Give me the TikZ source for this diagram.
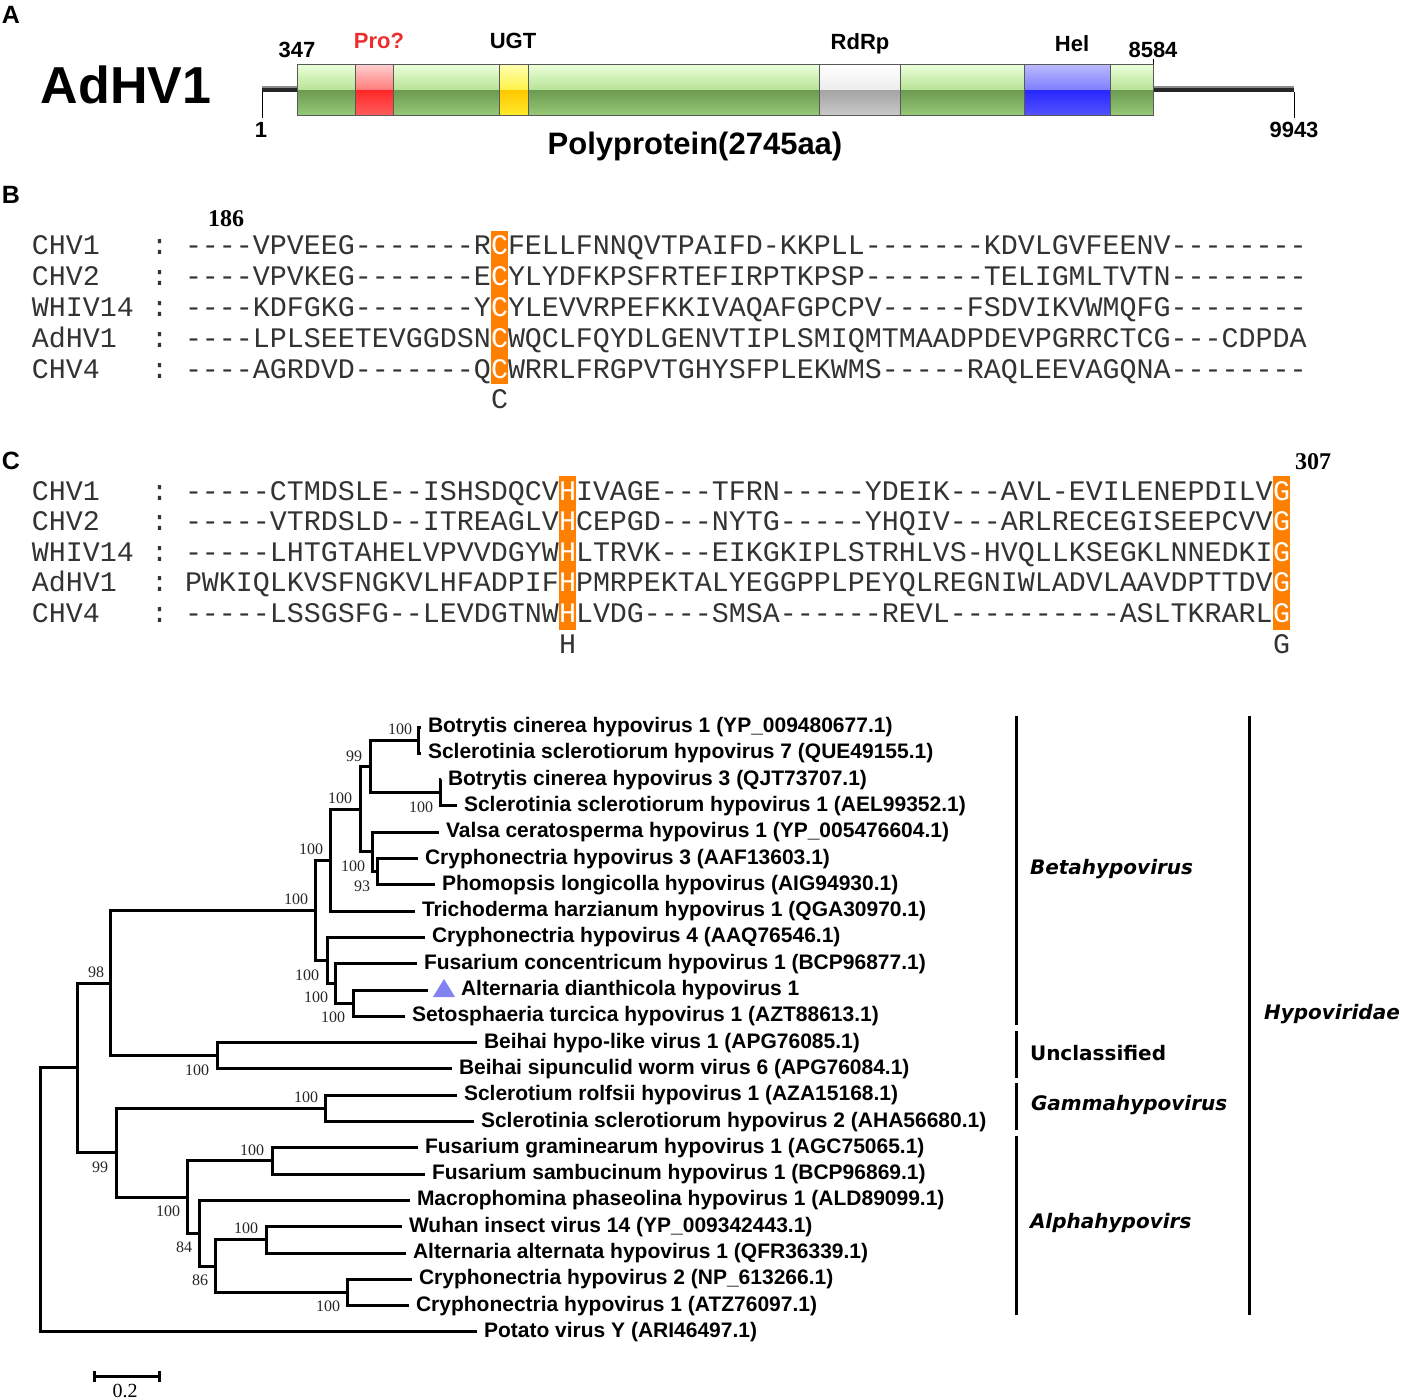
\documentclass[tikz,border=0pt]{standalone}
\usepackage{fontspec}
\setmainfont{Liberation Sans}
\setmonofont{Liberation Mono}
\newfontfamily\serifface{Liberation Serif}
\newfontfamily\verdface{DejaVu Sans}
\usetikzlibrary{calc}
\definecolor{orng}{RGB}{255,128,0}
\definecolor{proRed}{RGB}{235,45,45}
\definecolor{triBlue}{RGB}{130,130,240}
% bar segment colours: top, mid-upper, mid-lower, bottom
\definecolor{gA}{RGB}{234,255,216}\definecolor{gB}{RGB}{182,226,148}\definecolor{gC}{RGB}{108,155,82}\definecolor{gD}{RGB}{152,202,120}
\definecolor{rA}{RGB}{255,205,205}\definecolor{rB}{RGB}{255,120,120}\definecolor{rC}{RGB}{255,40,40}\definecolor{rD}{RGB}{255,95,95}
\definecolor{yA}{RGB}{255,255,175}\definecolor{yB}{RGB}{255,240,70}\definecolor{yC}{RGB}{255,200,0}\definecolor{yD}{RGB}{255,235,45}
\definecolor{wA}{RGB}{255,255,255}\definecolor{wB}{RGB}{236,236,236}\definecolor{wC}{RGB}{165,165,165}\definecolor{wD}{RGB}{202,202,202}
\definecolor{bA}{RGB}{185,185,255}\definecolor{bB}{RGB}{125,125,255}\definecolor{bC}{RGB}{40,40,255}\definecolor{bD}{RGB}{85,85,255}
\newcommand\barseg[3]{%
  \shade[top color=#3A,bottom color=#3B] (#1,65) rectangle (#2,90.5);
  \shade[top color=#3C,bottom color=#3D] (#1,90.5) rectangle (#2,116);}
\begin{document}
\begin{tikzpicture}[x=0.5pt,y=-0.5pt,
  every node/.style={inner sep=0pt,outer sep=0pt},
  br/.style={line width=1.5pt},
  leaf/.style={anchor=base west,font=\bfseries\fontsize{10.5}{12}\selectfont},
  boot/.style={font=\serifface\fontsize{8}{9}\selectfont,text=black!85},
  seqtxt/.style={anchor=base west,font=\ttfamily\fontsize{14.16}{16}\selectfont,text=black!80},
  hltxt/.style={seqtxt,text=white},
  grp/.style={anchor=west,font=\verdface\bfseries\itshape\fontsize{10}{12}\selectfont},
  panel/.style={font=\bfseries\fontsize{12.5}{14}\selectfont},
  alab/.style={font=\bfseries\fontsize{11}{13}\selectfont},
  posnum/.style={font=\serifface\bfseries\fontsize{12}{14}\selectfont}]
\fill[white] (0,0) rectangle (1402,1400);
\useasboundingbox (0,0) rectangle (1402,1400);

% ================= Panel A =================
\node[panel] (pA) at (11,15) {A};
\node[font=\bfseries\fontsize{26}{30}\selectfont] (name) at (126,85) {AdHV1};
\fill[black!85] (262,86.5) rectangle (297,92.5);
\fill[black!85] (1153,86.5) rectangle (1294,92.5);
\fill[black!45] (262,86.5) rectangle (297,88);
\fill[black!45] (1153,86.5) rectangle (1294,88);
\draw[line width=0.5pt] (262,92) -- (262,118);
\draw[line width=0.5pt] (1294,92) -- (1294,118);
\draw[line width=0.5pt] (1153,59) -- (1153,65);
\barseg{297}{355}{g}
\barseg{355}{393}{r}
\barseg{393}{499}{g}
\barseg{499}{528}{y}
\barseg{528}{819}{g}
\barseg{819}{900}{w}
\barseg{900}{1024}{g}
\barseg{1024}{1110}{b}
\barseg{1110}{1153}{g}
\draw[black!65,line width=0.5pt] (297,65) rectangle (1153,116);
\foreach \xx in {355,393,499,528,819,900,1024,1110}
  \draw[black!65,line width=0.5pt] (\xx,65) -- (\xx,116);
\node[alab] (p347) at (297,50) {347};
\node[alab,text=proRed] (ppro) at (379,41) {Pro?};
\node[alab] (pugt) at (513,41) {UGT};
\node[alab] (prdrp) at (860,44) {RdRp};
\node[alab] (phel) at (1072,44) {Hel};
\node[alab] (p8584) at (1153,50) {8584};
\node[alab] (p1) at (261,130) {1};
\node[alab] (p9943) at (1294,130) {9943};
\node[font=\bfseries\fontsize{15.5}{18}\selectfont] (poly) at (695,146) {Polyprotein(2745aa)};

% ================= Panel B =================
\node[panel] (pB) at (11,195) {B};
\node[posnum] (n186) at (226,219) {186};
\fill[orng] (491,231) rectangle (508,384);
\foreach \yy/\nm/\pre/\mid/\post in {
  246/CHV1/----VPVEEG-------R/C/FELLFNNQVTPAIFD-KKPLL-------KDVLGVFEENV--------,
  277/CHV2/----VPVKEG-------E/C/YLYDFKPSFRTEFIRPTKPSP-------TELIGMLTVTN--------,
  308/WHIV14/----KDFGKG-------Y/C/YLEVVRPEFKKIVAQAFGPCPV-----FSDVIKVWMQFG--------,
  339/AdHV1/----LPLSEETEVGGDSN/C/WQCLFQYDLGENVTIPLSMIQMTMAADPDEVPGRRCTCG---CDPDA,
  370/CHV4/----AGRDVD-------Q/C/WRRLFRGPVTGHYSFPLEKWMS-----RAQLEEVAGQNA--------}{
  \node[seqtxt] (bn\nm) at (32,\yy+8.5) {\nm};
  \node[seqtxt] (bc\nm) at (151,\yy+8.5) {:};
  \node[seqtxt] (bp\nm) at (185,\yy+8.5) {\pre};
  \node[hltxt] (bh\nm) at (491,\yy+8.5) {\mid};
  \node[seqtxt] (bq\nm) at (508,\yy+8.5) {\post};
}
\node[seqtxt,anchor=base] (bcons) at (499.5,408.5) {C};

% ================= Panel C =================
\node[panel] (pC) at (11,461) {C};
\node[posnum] (n307) at (1313,462) {307};
\fill[orng] (559,476) rectangle (576,630);
\fill[orng] (1273,476) rectangle (1290,630);
\foreach \yy/\nm/\pre/\mid in {
  492/CHV1/-----CTMDSLE--ISHSDQCV/IVAGE---TFRN-----YDEIK---AVL-EVILENEPDILV,
  522.5/CHV2/-----VTRDSLD--ITREAGLV/CEPGD---NYTG-----YHQIV---ARLRECEGISEEPCVV,
  553/WHIV14/-----LHTGTAHELVPVVDGYW/LTRVK---EIKGKIPLSTRHLVS-HVQLLKSEGKLNNEDKI,
  583.5/AdHV1/PWKIQLKVSFNGKVLHFADPIF/PMRPEKTALYEGGPPLPEYQLREGNIWLADVLAAVDPTTDV,
  614/CHV4/-----LSSGSFG--LEVDGTNW/LVDG----SMSA------REVL----------ASLTKRARL}{
  \node[seqtxt] (cn\nm) at (32,\yy+8.5) {\nm};
  \node[seqtxt] (cc\nm) at (151,\yy+8.5) {:};
  \node[seqtxt] (cp\nm) at (185,\yy+8.5) {\pre};
  \node[hltxt] (ch\nm) at (559,\yy+8.5) {H};
  \node[seqtxt] (cm\nm) at (576,\yy+8.5) {\mid};
  \node[hltxt] (cg\nm) at (1273,\yy+8.5) {G};
}
\node[seqtxt,anchor=base] (chcons) at (567.5,653.5) {H};
\node[seqtxt,anchor=base] (cgcons) at (1281.5,653.5) {G};

% ================= Tree =================
% tips
\coordinate (t1) at (421,727);
\coordinate (t2) at (421,753.3);
\coordinate (t3) at (441,779.6);
\coordinate (t4) at (457,805.9);
\coordinate (t5) at (439,832.2);
\coordinate (t6) at (418,858.5);
\coordinate (t7) at (435,884.8);
\coordinate (t8) at (415,911.1);
\coordinate (t9) at (425,937.4);
\coordinate (t10) at (417,963.7);
\coordinate (t11) at (428,990);
\coordinate (t12) at (405,1016.3);
\coordinate (t13) at (477,1042.6);
\coordinate (t14) at (452,1068.9);
\coordinate (t15) at (457,1095.2);
\coordinate (t16) at (474,1121.5);
\coordinate (t17) at (418,1147.8);
\coordinate (t18) at (425,1174.1);
\coordinate (t19) at (410,1200.4);
\coordinate (t20) at (402,1226.7);
\coordinate (t21) at (406,1253);
\coordinate (t22) at (412,1279.3);
\coordinate (t23) at (409,1305.6);
\coordinate (t24) at (477,1331.9);
% internal nodes
\coordinate (nBS) at (418,740.15);
\coordinate (nBS2) at (440,792.75);
\coordinate (n99) at (370,766.45);
\coordinate (nCP) at (377,871.65);
\coordinate (nVal) at (372,851.9);
\coordinate (n100a) at (360,809.2);
\coordinate (n100b) at (330,860.15);
\coordinate (n100f) at (353,1003.15);
\coordinate (n100e) at (335,983.4);
\coordinate (n100d) at (327,960.4);
\coordinate (n100c) at (315,910.3);
\coordinate (nBei) at (217,1055.75);
\coordinate (n98) at (110,983);
\coordinate (nGam) at (325,1108.35);
\coordinate (nFus) at (272,1160.95);
\coordinate (nWA) at (266,1239.85);
\coordinate (nCC) at (347,1292.45);
\coordinate (n86) at (215,1266.15);
\coordinate (n84) at (199,1233.3);
\coordinate (n100g) at (187,1197.1);
\coordinate (n99b) at (116,1152.7);
\coordinate (nOut) at (77,1067.9);
\coordinate (root) at (40,1199.9);
% branches
\draw[br] (nBS) |- (t1);   \draw[br] (nBS) |- (t2);
\draw[br] (nBS2) |- (t3);  \draw[br] (nBS2) |- (t4);
\draw[br] (n99) |- (nBS);  \draw[br] (n99) |- (nBS2);
\draw[br] (nCP) |- (t6);   \draw[br] (nCP) |- (t7);
\draw[br] (nVal) |- (t5);  \draw[br] (nVal) |- (nCP);
\draw[br] (n100a) |- (n99); \draw[br] (n100a) |- (nVal);
\draw[br] (n100b) |- (n100a); \draw[br] (n100b) |- (t8);
\draw[br] (n100f) |- (t11); \draw[br] (n100f) |- (t12);
\draw[br] (n100e) |- (t10); \draw[br] (n100e) |- (n100f);
\draw[br] (n100d) |- (t9);  \draw[br] (n100d) |- (n100e);
\draw[br] (n100c) |- (n100b); \draw[br] (n100c) |- (n100d);
\draw[br] (nBei) |- (t13); \draw[br] (nBei) |- (t14);
\draw[br] (n98) |- (n100c); \draw[br] (n98) |- (nBei);
\draw[br] (nGam) |- (t15); \draw[br] (nGam) |- (t16);
\draw[br] (nFus) |- (t17); \draw[br] (nFus) |- (t18);
\draw[br] (nWA) |- (t20);  \draw[br] (nWA) |- (t21);
\draw[br] (nCC) |- (t22);  \draw[br] (nCC) |- (t23);
\draw[br] (n86) |- (nWA);  \draw[br] (n86) |- (nCC);
\draw[br] (n84) |- (t19);  \draw[br] (n84) |- (n86);
\draw[br] (n100g) |- (nFus); \draw[br] (n100g) |- (n84);
\draw[br] (n99b) |- (nGam); \draw[br] (n99b) |- (n100g);
\draw[br] (nOut) |- (n98); \draw[br] (nOut) |- (n99b);
\draw[br] (root) |- (nOut); \draw[br] (root) |- (t24);
% leaf labels
\node[leaf] (L1) at ($(t1)+(7,5.5)$) {Botrytis cinerea hypovirus 1 (YP\_009480677.1)};
\node[leaf] (L2) at ($(t2)+(7,5.5)$) {Sclerotinia sclerotiorum hypovirus 7 (QUE49155.1)};
\node[leaf] (L3) at ($(t3)+(7,5.5)$) {Botrytis cinerea hypovirus 3 (QJT73707.1)};
\node[leaf] (L4) at ($(t4)+(7,5.5)$) {Sclerotinia sclerotiorum hypovirus 1 (AEL99352.1)};
\node[leaf] (L5) at ($(t5)+(7,5.5)$) {Valsa ceratosperma hypovirus 1 (YP\_005476604.1)};
\node[leaf] (L6) at ($(t6)+(7,5.5)$) {Cryphonectria hypovirus 3 (AAF13603.1)};
\node[leaf] (L7) at ($(t7)+(7,5.5)$) {Phomopsis longicolla hypovirus (AIG94930.1)};
\node[leaf] (L8) at ($(t8)+(7,5.5)$) {Trichoderma harzianum hypovirus 1 (QGA30970.1)};
\node[leaf] (L9) at ($(t9)+(7,5.5)$) {Cryphonectria hypovirus 4 (AAQ76546.1)};
\node[leaf] (L10) at ($(t10)+(7,5.5)$) {Fusarium concentricum hypovirus 1 (BCP96877.1)};
\fill[triBlue] ($(t11)+(5,7)$) -- ($(t11)+(27,7)$) -- ($(t11)+(16,-11)$) -- cycle;
\node[leaf] (L11) at ($(t11)+(33,5.5)$) {Alternaria dianthicola hypovirus 1};
\node[leaf] (L12) at ($(t12)+(7,5.5)$) {Setosphaeria turcica hypovirus 1 (AZT88613.1)};
\node[leaf] (L13) at ($(t13)+(7,5.5)$) {Beihai hypo-like virus 1 (APG76085.1)};
\node[leaf] (L14) at ($(t14)+(7,5.5)$) {Beihai sipunculid worm virus 6 (APG76084.1)};
\node[leaf] (L15) at ($(t15)+(7,5.5)$) {Sclerotium rolfsii hypovirus 1 (AZA15168.1)};
\node[leaf] (L16) at ($(t16)+(7,5.5)$) {Sclerotinia sclerotiorum hypovirus 2 (AHA56680.1)};
\node[leaf] (L17) at ($(t17)+(7,5.5)$) {Fusarium graminearum hypovirus 1 (AGC75065.1)};
\node[leaf] (L18) at ($(t18)+(7,5.5)$) {Fusarium sambucinum hypovirus 1 (BCP96869.1)};
\node[leaf] (L19) at ($(t19)+(7,5.5)$) {Macrophomina phaseolina hypovirus 1 (ALD89099.1)};
\node[leaf] (L20) at ($(t20)+(7,5.5)$) {Wuhan insect virus 14 (YP\_009342443.1)};
\node[leaf] (L21) at ($(t21)+(7,5.5)$) {Alternaria alternata hypovirus 1 (QFR36339.1)};
\node[leaf] (L22) at ($(t22)+(7,5.5)$) {Cryphonectria hypovirus 2 (NP\_613266.1)};
\node[leaf] (L23) at ($(t23)+(7,5.5)$) {Cryphonectria hypovirus 1 (ATZ76097.1)};
\node[leaf] (L24) at ($(t24)+(7,5.5)$) {Potato virus Y (ARI46497.1)};
% bootstrap values
\node[boot] (b1) at (400,729) {100};
\node[boot] (b2) at (354,756) {99};
\node[boot] (b3) at (421,807) {100};
\node[boot] (b4) at (340,798) {100};
\node[boot] (b5) at (353,866) {100};
\node[boot] (b6) at (362,886) {93};
\node[boot] (b7) at (311,849) {100};
\node[boot] (b8) at (296,899) {100};
\node[boot] (b9) at (307,975) {100};
\node[boot] (b10) at (316,997) {100};
\node[boot] (b11) at (333,1017) {100};
\node[boot] (b12) at (96,972) {98};
\node[boot] (b13) at (197,1070) {100};
\node[boot] (b14) at (100,1167) {99};
\node[boot] (b15) at (306,1097) {100};
\node[boot] (b16) at (168,1211) {100};
\node[boot] (b17) at (252,1150) {100};
\node[boot] (b18) at (184,1247) {84};
\node[boot] (b19) at (200,1280) {86};
\node[boot] (b20) at (246,1228) {100};
\node[boot] (b21) at (328,1306) {100};
% scale bar
\coordinate (sb1) at (94,1376);
\coordinate (sb2) at (159,1376);
\draw[br] (sb1) -- (sb2);
\draw[br] ($(sb1)+(0,-5)$) -- ($(sb1)+(0,6)$);
\draw[br] ($(sb2)+(0,-5)$) -- ($(sb2)+(0,6)$);
\node[font=\serifface\fontsize{10}{12}\selectfont] (sbl) at (125,1391) {0.2};
% group bars
\draw[br] (1016,716) -- (1016,1025);
\draw[br] (1016,1031) -- (1016,1078);
\draw[br] (1016,1083) -- (1016,1130);
\draw[br] (1016,1136) -- (1016,1315);
\draw[br] (1249,716) -- (1249,1315);
\node[grp] (gBeta) at (1030,869) {Betahypovirus};
\node[grp,font=\verdface\bfseries\fontsize{10}{12}\selectfont] (gUnc) at (1030,1053) {Unclassified};
\node[grp] (gGam) at (1031,1105) {Gammahypovirus};
\node[grp] (gAlp) at (1030,1223) {Alphahypovirs};
\node[grp] (gHyp) at (1264,1014) {Hypoviridae};
\end{tikzpicture}
\end{document}
